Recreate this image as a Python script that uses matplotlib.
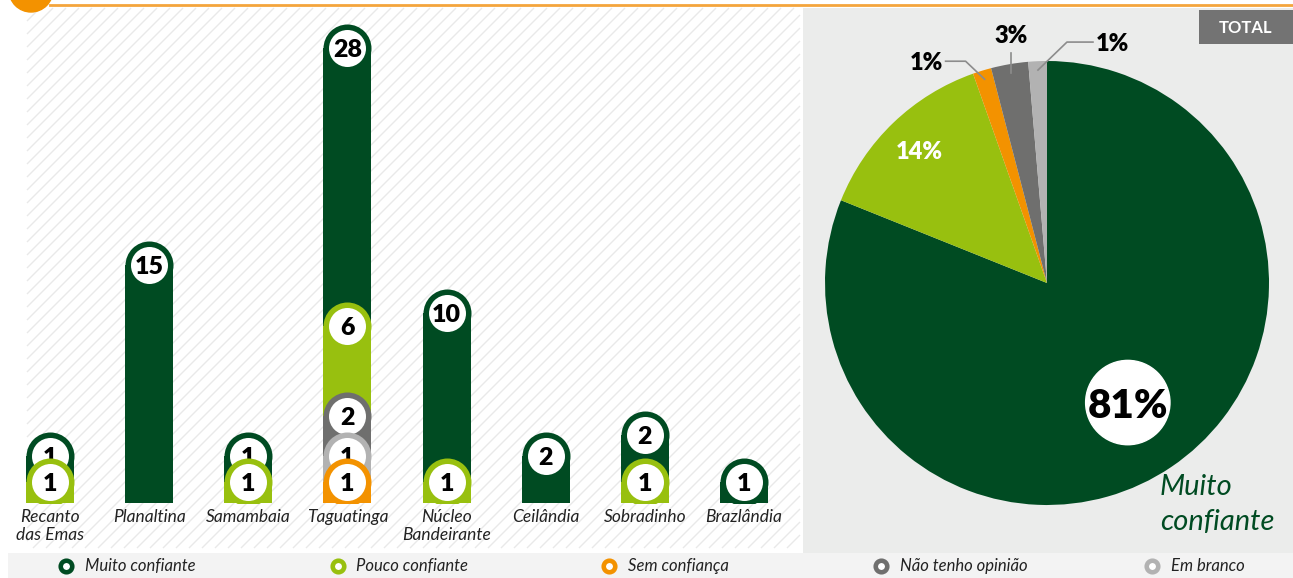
import os
os.environ.setdefault("MPLBACKEND", "Agg")
import numpy as np
import matplotlib.pyplot as plt
from matplotlib.patches import Rectangle, Circle
from matplotlib.collections import LineCollection

W, H, DPI = 1293, 578, 100

categories = ["Recanto\ndas Emas", "Planaltina", "Samambaia", "Taguatinga",
              "Núcleo\nBandeirante", "Ceilândia", "Sobradinho", "Brazlândia"]
muito  = [1, 15, 1, 28, 10, 2, 2, 1]
pouco  = [1, 0, 1, 6, 1, 0, 1, 0]
sem    = [0, 0, 0, 1, 0, 0, 0, 0]
nao    = [0, 0, 0, 2, 0, 0, 0, 0]
branco = [0, 0, 0, 1, 0, 0, 0, 0]

series_names = ["Muito confiante", "Pouco confiante", "Sem confiança",
                "Não tenho opinião", "Em branco"]
series_vals = [muito, pouco, sem, nao, branco]
_COLOURS = ["#004b22", "#98c00f", "#f39200", "#6f6f6e", "#b2b2b2"]

plt.rcParams["font.family"] = ["Lato", "DejaVu Sans"]

fig = plt.figure(figsize=(W / DPI, H / DPI), dpi=DPI)

# background decoration, in pixel units
deco = fig.add_axes([0, 0, 1, 1], zorder=0)
deco.set_xlim(0, W)
deco.set_ylim(H, 0)
deco.axis("off")

# faint diagonal hatching behind the bars
x0p, x1p, y0p, y1p = 27, 800, 8, 548
segs = []
for x in np.arange(x0p - (y1p - y0p), x1p, 13):
    xs, xe = max(x, x0p), min(x + (y1p - y0p), x1p)
    if xe > xs:
        segs.append([(xs, y1p - (xs - x)), (xe, y1p - (xe - x))])
deco.add_collection(LineCollection(segs, colors="#e9e9e9", linewidths=1.0,
                                   zorder=0.5))

deco.add_patch(Rectangle((803, 8), 490, 545, facecolor="#ebeceb", linewidth=0))
deco.add_patch(Rectangle((8, 553), 1285, 25, facecolor="#f3f3f3", linewidth=0))
deco.plot([50, W], [5, 5], color="#f4a53c", lw=2)
deco.add_patch(Circle((31, -10), 22, color="#f39200", clip_on=False))
deco.add_patch(Rectangle((1199, 10), 94, 34, facecolor="#737373", linewidth=0))
deco.text(1246, 28, "TOTAL", color="white", fontsize=12, fontweight="bold",
          ha="center", va="center")
deco.text(1160, 474, "Muito\nconfiante", color="#004b22", fontsize=21,
          style="italic", ha="left", va="top", linespacing=1.45)

# legend strip
leg_x = np.linspace(66, 1152, len(series_names))
for x, name, col in zip(leg_x, series_names, _COLOURS):
    deco.plot(x, 566, "o", ms=8.3, mfc="white", mec=col, mew=3.3)
    deco.text(x + 19, 566, name, fontsize=12, style="italic", color="#222222",
              ha="left", va="center")

# stacked capsule bars
ax = fig.add_axes([0, 75 / H, 800 / W, 495 / H], zorder=1)
ax.patch.set_alpha(0)
ax.set_yscale("function",
              functions=(lambda v: np.power(np.clip(v, 0, None), 0.65),
                         lambda u: np.power(np.clip(u, 0, None), 1 / 0.65)))
ax.set_xlim(-0.504, 7.565)
ax.set_ylim(0, 40)
ax.axis("off")

BW = 0.484
R = 24  # cap radius, px
stack_order = [2, 4, 3, 1, 0]  # bottom -> top: sem, branco, nao, pouco, muito
for i, cat in enumerate(categories):
    vals = [series_vals[k][i] for k in stack_order]
    cum = np.cumsum(vals)
    parts = [(stack_order[j], cum[j], vals[j]) for j in range(len(vals)) if vals[j] > 0]
    for z, (k, top, val) in enumerate(reversed(parts)):
        xd, yd = ax.transData.transform((i, top))
        cy = ax.transData.inverted().transform((xd, yd - R))[1]
        zo = 2 + 2 * z
        col = _COLOURS[k]
        ax.bar(i, cy, width=BW, color=col, linewidth=0, zorder=zo)
        ax.plot(i, cy, "o", ms=2 * R * 0.72, color=col, mec="none", zorder=zo)
        ax.plot(i, cy, "o", ms=37 * 0.72, color="white", mec="none", zorder=zo + 0.5)
        ax.text(i, cy, str(val), ha="center", va="center_baseline", fontsize=18,
                fontweight="heavy", color="black", zorder=zo + 1)
    ax.annotate(cat, (i, 0), xytext=(0, -4), textcoords="offset points",
                ha="center", va="top", fontsize=12.5, style="italic",
                color="#222222", linespacing=1.2)

# total pie
totals = [sum(v) for v in series_vals]
pct = [round(100 * t / sum(totals)) for t in totals]
axp = fig.add_axes([825 / W, 73 / H, 444 / W, 444 / H], zorder=1)
wedges, _ = axp.pie(totals, colors=_COLOURS, startangle=90, counterclock=False,
                    radius=1, wedgeprops=dict(linewidth=0))
axp.set_xlim(-1, 1)
axp.set_ylim(-1, 1)

PX = 1 / 222  # one pixel in pie units


def _mid(w):
    return np.deg2rad((w.theta1 + w.theta2) / 2)


a = _mid(wedges[0])
cx, cy = 0.65 * np.cos(a), 0.65 * np.sin(a)
axp.add_patch(Circle((cx, cy), 0.19, color="white", zorder=3))
axp.text(cx, cy, f"{pct[0]}%", fontsize=29, fontweight="heavy",
         ha="center", va="center_baseline", zorder=4)

a = _mid(wedges[1])
axp.text(0.83 * np.cos(a), 0.83 * np.sin(a), f"{pct[1]}%", fontsize=17,
         fontweight="heavy", color="white", ha="center", va="center_baseline")

# leader lines: (elbow dx, dy), (end dx) in px; text alignment
leaders = {2: ((-19, 18), -20, "right"), 3: ((0, 20), 0, "center"),
           4: ((29, 28), 26, "left")}
for k, ((dx, dy), ex, align) in leaders.items():
    a = _mid(wedges[k])
    lx0, ly0 = 0.96 * np.cos(a), 0.96 * np.sin(a)
    lx1, ly1 = lx0 + dx * PX, ly0 + dy * PX
    lx2 = lx1 + ex * PX
    axp.plot([lx0, lx1, lx2], [ly0, ly1, ly1], color="#8c8c8c", lw=1.2,
             clip_on=False, zorder=3)
    if align == "center":
        tx, ty = lx1, ly1 + 19 * PX
    else:
        tx, ty = lx2 + (3 if align == "left" else -3) * PX, ly1
    axp.text(tx, ty, f"{pct[k]}%", fontsize=17, fontweight="heavy",
             ha=align, va="center_baseline", clip_on=False)

fig.savefig("out.png", dpi=DPI)
